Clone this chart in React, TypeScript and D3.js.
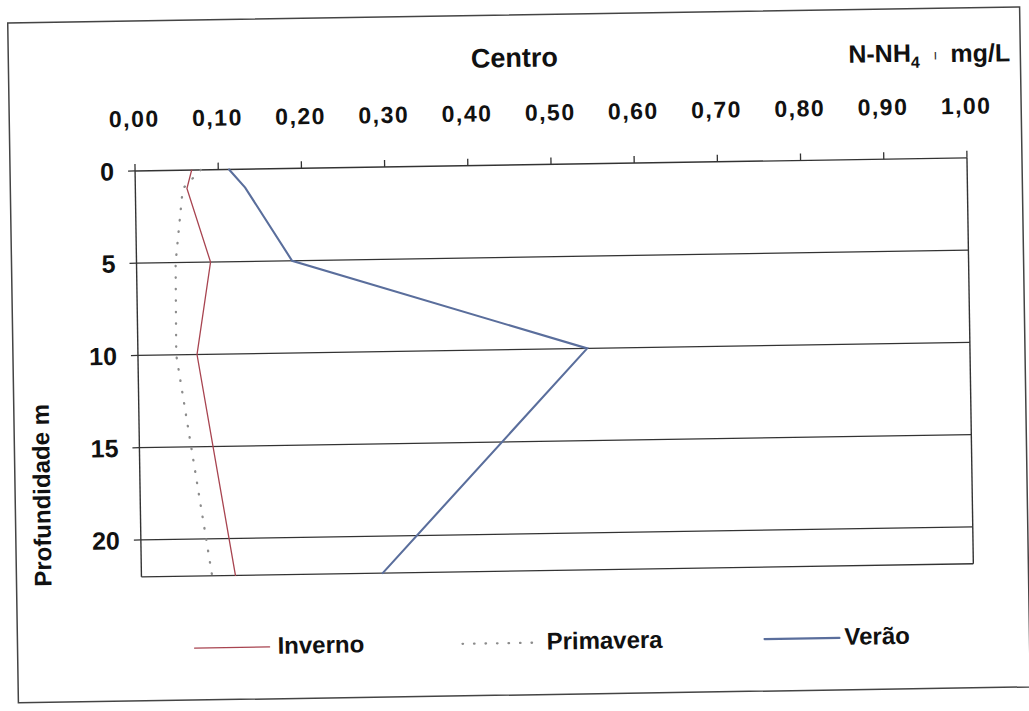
import React from "react";
import * as d3 from "d3";

const depths = [0, 1, 5, 10, 22];
const inverno = [0.068, 0.062, 0.089, 0.071, 0.113];
const primavera = [0.079, 0.057, 0.047, 0.046, 0.085];
const verao = [0.113, 0.132, 0.187, 0.54, 0.29];

const xTicks = [0, 0.1, 0.2, 0.3, 0.4, 0.5, 0.6, 0.7, 0.8, 0.9, 1.0];
const yTicks = [0, 5, 10, 15, 20];
const seriesNames = ["Inverno", "Primavera", "Verão"];

const FONT = "'Liberation Sans', Arial, sans-serif";

export default function App() {
  const W = 1029;
  const H = 711;
  const x = d3.scaleLinear().domain([0, 1]).range([138, 970]);
  const y = d3.scaleLinear().domain([0, 22]).range([165, 571]);

  const line = d3
    .line<[number, number]>()
    .x((d) => x(d[0]))
    .y((d) => y(d[1]));

  const mk = (vals: number[]) => vals.map((v, i) => [v, depths[i]] as [number, number]);

  const styles = [
    { data: inverno, stroke: "#a84450", width: 1.3, dash: undefined as string | undefined },
    { data: primavera, stroke: "#8c8c8c", width: 2.3, dash: "0.5,11" },
    { data: verao, stroke: "#5a6e9c", width: 2.1, dash: undefined as string | undefined },
  ];

  const legend = [
    { x1: 190, x2: 265, tx: 273 },
    { x1: 458, x2: 535, tx: 542 },
    { x1: 760, x2: 835, tx: 840 },
  ];

  const fmt = (v: number) => v.toFixed(2).replace(".", ",");
  const [x0, x1] = x.range();
  const [y0, y1] = y.range();
  const axisColor = "#333";

  return (
    <svg
      width={W}
      height={H}
      style={{ position: "absolute", left: 0, top: 0, background: "#fff" }}
      fontFamily={FONT}
    >
      <rect x={0} y={0} width={W} height={H} fill="#fff" />
      <g transform="rotate(-0.9 514 355)">
        {/* outer frame */}
        <rect x={13} y={15} width={1012} height={680} fill="none" stroke="#444" strokeWidth={1.5} />

        {/* title */}
        <text x={519} y={67} textAnchor="middle" fontSize={27} fontWeight="bold" fill="#111">
          Centro
        </text>
        <text x={853} y={68} fontSize={25} fontWeight="bold" fill="#111">
          N-NH
          <tspan fontSize={16} dy={6}>4</tspan>
        </text>
        <text x={938} y={66} fontSize={14} fill="#333">ı</text>
        <text x={955} y={69} fontSize={25} fontWeight="bold" fill="#111">
          mg/L
        </text>

        {/* gridlines */}
        {yTicks
          .filter((t) => t > 0)
          .map((t) => (
            <line key={"g" + t} x1={x0} x2={x1} y1={y(t)} y2={y(t)} stroke={axisColor} strokeWidth={1.3} />
          ))}

        {/* plot border */}
        <line x1={x0} x2={x1} y1={y0} y2={y0} stroke={axisColor} strokeWidth={1.4} />
        <line x1={x0} x2={x0} y1={y0} y2={y1} stroke={axisColor} strokeWidth={1.4} />
        <line x1={x1} x2={x1} y1={y0} y2={y1} stroke={axisColor} strokeWidth={1.4} />
        <line x1={x0} x2={x1} y1={y1} y2={y1} stroke={axisColor} strokeWidth={1.4} />

        {/* x ticks */}
        {xTicks.map((t) => (
          <g key={"x" + t}>
            <line x1={x(t)} x2={x(t)} y1={y0} y2={y0 - 7} stroke={axisColor} strokeWidth={1.3} />
            <text
              x={x(t)}
              y={121}
              textAnchor="middle"
              fontSize={23}
              fontWeight="bold"
              letterSpacing={1.5}
              fill="#111"
            >
              {fmt(t)}
            </text>
          </g>
        ))}

        {/* y ticks */}
        {yTicks.map((t) => (
          <g key={"y" + t}>
            <line x1={x0 - 7} x2={x0} y1={y(t)} y2={y(t)} stroke={axisColor} strokeWidth={1.3} />
            <text x={117} y={y(t) + 9} textAnchor="end" fontSize={25} fontWeight="bold" fill="#111">
              {t}
            </text>
          </g>
        ))}

        {/* y title */}
        <text
          transform="translate(48 488) rotate(-90)"
          textAnchor="middle"
          fontSize={24}
          fontWeight="bold"
          fill="#111"
        >
          Profundidade m
        </text>

        {/* series */}
        {styles.map((s, i) => (
          <path
            key={"s" + i}
            d={line(mk(s.data)) || ""}
            fill="none"
            stroke={s.stroke}
            strokeWidth={s.width}
            strokeDasharray={s.dash}
            strokeLinecap="round"
          />
        ))}

        {/* legend */}
        {styles.map((s, i) => (
          <g key={"l" + i}>
            <line
              x1={legend[i].x1}
              x2={legend[i].x2}
              y1={643}
              y2={643}
              stroke={s.stroke}
              strokeWidth={s.width}
              strokeDasharray={s.dash}
              strokeLinecap="round"
            />
            <text x={legend[i].tx} y={650} fontSize={24} fontWeight="bold" fill="#111">
              {seriesNames[i]}
            </text>
          </g>
        ))}
      </g>
    </svg>
  );
}
